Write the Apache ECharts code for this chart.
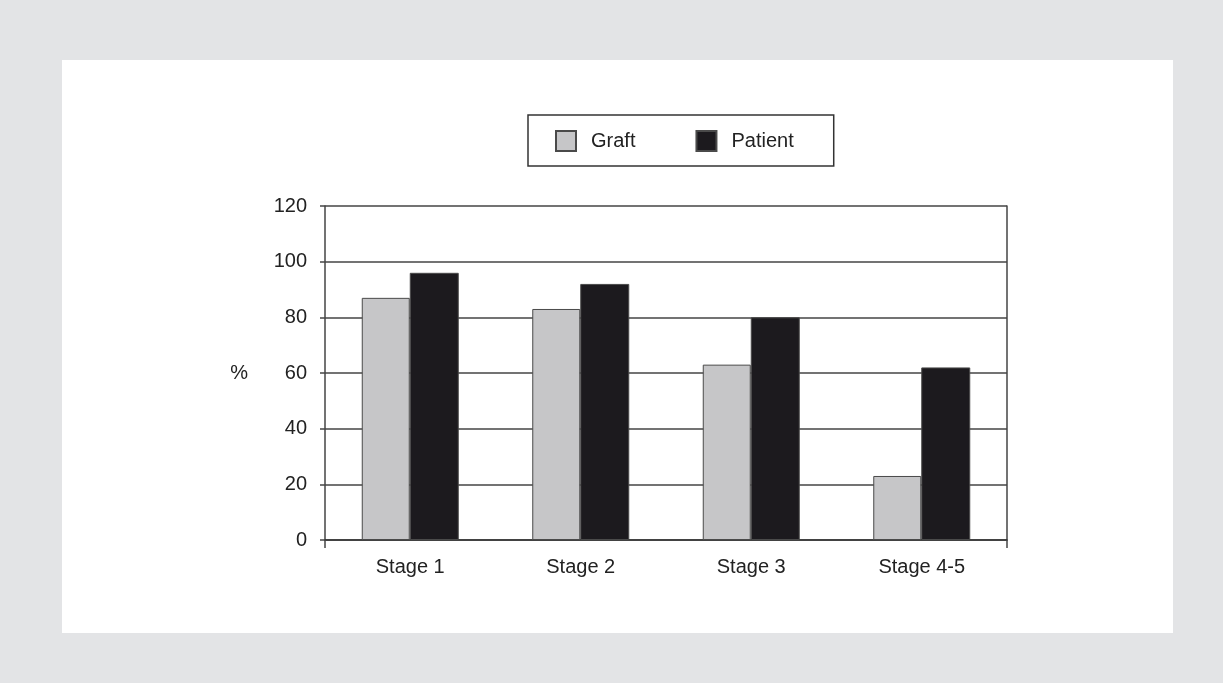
<!DOCTYPE html>
<html>
<head>
<meta charset="utf-8">
<script src="https://cdn.jsdelivr.net/npm/echarts@6/dist/echarts.min.js"></script>
<style>
  html, body { margin: 0; padding: 0; }
  body { width: 1223px; height: 683px; background: #e3e4e6; position: relative; overflow: hidden; }
  .panel { position: absolute; left: 62px; top: 60px; width: 1111px; height: 573px; background: #fff; }
  #chart { position: absolute; left: 0; top: 0; width: 1223px; height: 683px; }
</style>
</head>
<body>
<div class="panel"></div>
<div id="chart"></div>
<script>
  const categories = ['Stage 1', 'Stage 2', 'Stage 3', 'Stage 4-5']
  const graft = [87, 83, 63, 23]
  const patient = [96, 92, 80, 62]
  const yTicks = { min: 0, max: 120, interval: 20 }

  const lineCol = '#454545'
  const textCol = '#222'
  const font = '"Liberation Sans", Arial, sans-serif'

  const chart = echarts.init(document.getElementById('chart'))

  chart.setOption({
    backgroundColor: 'transparent',
    animation: false,
    textStyle: { fontFamily: font },
    grid: { left: 325, right: 216, top: 206, bottom: 143 },
    legend: {
      left: 528,
      top: 115,
      orient: 'horizontal',
      padding: [15, 40, 14, 27],
      borderColor: '#333',
      borderWidth: 1.5,
      itemWidth: 20,
      itemHeight: 20,
      itemGap: 60,
      icon: 'rect',
      textStyle: { fontSize: 20, color: textCol, fontFamily: font, padding: [0, 0, 0, 10] },
      data: ['Graft', 'Patient']
    },
    xAxis: {
      type: 'category',
      data: categories,
      axisLine: { lineStyle: { color: '#333', width: 1.5 } },
      axisTick: { show: true, length: 8, interval: (i) => i === 0, lineStyle: { color: lineCol, width: 1.5 } },
      axisLabel: { fontSize: 20, color: textCol, margin: 17, fontFamily: font },
      splitLine: { show: false }
    },
    yAxis: [
      {
        type: 'value',
        min: yTicks.min,
        max: yTicks.max,
        interval: yTicks.interval,
        name: '%',
        nameLocation: 'middle',
        nameRotate: 0,
        nameGap: 77,
        nameTextStyle: { fontSize: 20, color: textCol, fontFamily: font },
        axisLine: { show: true, lineStyle: { color: lineCol, width: 1.5 } },
        axisTick: { show: true, length: 5, lineStyle: { color: lineCol, width: 1.5 } },
        axisLabel: { fontSize: 20, color: textCol, margin: 18, fontFamily: font },
        splitLine: { show: true, lineStyle: { color: lineCol, width: 1.5 } }
      },
      {
        type: 'value',
        position: 'right',
        min: yTicks.min,
        max: yTicks.max,
        interval: yTicks.interval,
        axisLine: { show: true, lineStyle: { color: lineCol, width: 1.5 } },
        axisTick: { show: false },
        axisLabel: { show: false },
        splitLine: { show: false }
      }
    ],
    series: [
      {
        name: 'Graft',
        type: 'bar',
        data: graft,
        barWidth: 48,
        barGap: '0%',
        itemStyle: { color: '#c6c6c8', borderColor: '#4a4a4a', borderWidth: 1 }
      },
      {
        name: 'Patient',
        type: 'bar',
        data: patient,
        barWidth: 49,
        barGap: '0%',
        itemStyle: { color: '#1c1a1e', borderColor: '#4a4a4a', borderWidth: 1 }
      }
    ]
  })
</script>
</body>
</html>
